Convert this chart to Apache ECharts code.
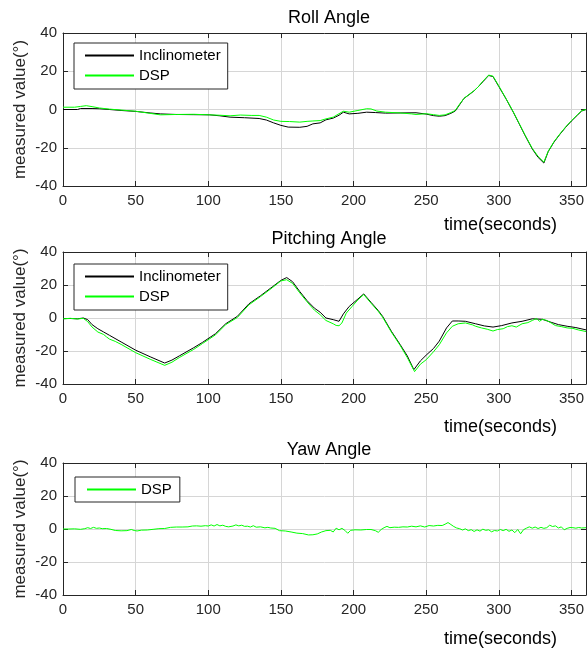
<!DOCTYPE html>
<html>
<head>
<meta charset="utf-8">
<script src="https://cdn.jsdelivr.net/npm/echarts@6/dist/echarts.min.js"></script>
<style>
  html, body { margin: 0; padding: 0; background: #fff; }
  #app { width: 587px; height: 648px; }
</style>
</head>
<body>
<div id="app"></div>
<script>
// roll angle
var rollInclT = [0, 10, 12, 20, 25, 32, 40, 50, 60, 67, 78, 90, 101, 108, 115, 125, 135, 140, 145, 150, 155, 163, 168, 172, 177, 181, 186, 190, 193, 197, 203, 209, 215, 222, 232, 243, 250, 255, 259, 263, 267, 270, 273, 276, 280, 283, 286, 289, 293, 296, 300, 305, 310, 314, 318, 323, 327, 331, 334, 338, 342, 346, 350, 354, 357, 360];
var rollIncl = [0, 0, 0.5, 0.5, 0.4, 0, -0.5, -1, -1.8, -2.3, -2.6, -2.7, -2.8, -3.3, -4, -4.3, -4.7, -5.5, -7, -8.3, -9.2, -9.3, -8.8, -7.5, -7, -5.4, -4.5, -3, -1.4, -2.3, -2, -1.4, -1.6, -1.9, -1.8, -1.7, -2.4, -3.2, -3.5, -3.2, -2, -0.8, 2.5, 5.8, 8, 9.8, 12, 14.5, 17.8, 17.2, 12, 5.5, -1.5, -7.5, -13.5, -20.6, -25, -28, -22, -17, -13, -9.3, -6, -3, -0.8, 0];
var rollDspT = [0, 8, 12, 16, 20, 25, 32, 40, 50, 58, 67, 78, 90, 101, 108, 115, 122, 130, 135, 140, 145, 150, 156, 163, 168, 172, 177, 181, 186, 190, 193, 197, 203, 209, 212, 216, 222, 232, 240, 243, 250, 255, 259, 263, 267, 270, 273, 276, 280, 283, 286, 289, 293, 296, 300, 305, 310, 314, 318, 323, 327, 331, 334, 338, 342, 346, 350, 354, 357, 360];
var rollDsp = [1.2, 1.2, 1.6, 2, 1.5, 0.8, 0.2, -0.3, -0.9, -1.8, -2.8, -2.6, -2.5, -2.8, -3, -3.3, -2.9, -3.1, -3.1, -4, -5.5, -6.2, -6.3, -6.6, -6.2, -6, -5.8, -4.9, -4, -2.2, -0.9, -1.4, -0.5, 0.4, 0.3, -0.8, -1.4, -1.8, -2.3, -2.6, -2.2, -2.7, -3.1, -2.8, -1.6, -0.5, 2.8, 5.8, 8.2, 9.8, 12, 14.8, 18, 17.4, 12.3, 5.6, -1.3, -7.3, -13.3, -20.3, -24.5, -27.5, -21.8, -16.8, -12.8, -9.1, -5.8, -2.8, -0.6, 0];

// pitching angle
var pitchInclT = [0, 5, 10, 14, 15, 17, 20, 24, 28, 32, 40, 50, 60, 70, 75, 80, 90, 96, 105, 112, 120, 128, 136, 144, 150, 154, 158, 163, 168, 173, 177, 181, 186, 190, 193, 197, 203, 207, 212, 217, 220, 226, 232, 237, 241.5, 246, 250, 255, 259, 264, 268, 272, 277, 284, 290, 296, 302, 309, 316, 323, 330, 336, 341, 347, 353, 360];
var pitchIncl = [-0.4, -0.3, -0.5, 0, 0.8, -1, -4, -6.5, -8.5, -10.5, -14.5, -19.5, -23.5, -27.3, -25.5, -23, -18, -14.8, -9.5, -3.5, 1, 8.6, 13.5, 18.8, 22.8, 24.5, 22, 16, 10.5, 6, 3.5, 0, -1, -2, 2.5, 7, 11.5, 14.6, 9.5, 4.5, 1, -8, -16, -23, -31.3, -26, -22.5, -18.5, -14, -6, -1.8, -1.8, -2, -3.5, -4.8, -5.5, -4.6, -3, -2, -0.5, -0.8, -2.6, -4, -5, -5.8, -7.2];
var pitchDspT = [0, 5, 10, 14, 15, 17, 20, 24, 28, 30, 32, 36, 40, 50, 60, 70, 75, 80, 90, 96, 105, 112, 120, 128, 136, 144, 150, 154, 158, 163, 168, 173, 177, 181, 186, 188, 190, 192, 195, 199, 203, 207, 212, 217, 220, 226, 232, 237, 242, 246, 250, 255, 259, 264, 268, 272, 277, 282, 284, 288, 292, 296, 299, 303, 306, 309, 312, 316, 320, 323, 326, 328, 330, 333, 336, 339, 343, 347, 351, 355, 360];
var pitchDsp = [-0.5, -0.2, -0.6, -0.2, 0.4, -2.2, -5.5, -8.5, -10, -11.5, -12.8, -14.2, -16, -21, -25, -28.7, -26.8, -24, -19, -15.5, -10.2, -4, 0.3, 8, 13, 18.3, 22.5, 23.2, 21, 15.2, 9.8, 4.8, 2, -1.5, -3.5, -4.5, -4.7, -3, 3, 7, 11, 14.2, 9, 4, 0.5, -8.5, -16.5, -24, -32.5, -28, -25.3, -20.5, -16.2, -9, -5, -3.5, -3, -4.2, -5, -6, -6.8, -7.9, -7, -6.5, -5.2, -4.7, -5.5, -3.5, -2.8, -1.5, -0.3, -2, -0.8, -1.5, -3, -4.6, -5.2, -6, -6.3, -7.3, -8.2];

// yaw angle
var yawDspT = [0, 4, 8, 12, 13, 15, 17, 19, 21, 23, 25, 27, 30, 33, 36, 40, 44, 47, 49, 51, 54, 58, 62, 66, 70, 74, 78, 82, 86, 89, 92, 95, 98, 100, 102, 104, 106, 108, 110, 112, 114, 117, 119, 121, 123, 125, 127, 129, 131, 133, 136, 139, 141, 143, 146, 149, 153, 157, 161, 165, 169, 172, 175, 178, 181, 184, 186, 188, 190, 192, 194, 196, 198, 201, 205, 209, 212, 215, 217, 219, 221, 223, 225, 228, 231, 234, 237, 240, 243, 246, 249, 252, 255, 258, 261, 263, 265, 267, 269, 271, 273, 275, 277, 279, 281, 283, 285, 287, 289, 291, 293, 295, 297, 299, 301, 303, 305, 307, 309, 311, 313, 315, 317, 319, 321, 323, 325, 327, 329, 331, 333, 335, 337, 339, 341, 343, 345, 347, 349, 351, 353, 355, 357, 360];
var yawDsp = [0, 0, 0.1, -0.2, 0.5, 0.2, 0.8, 0.3, 1, 0.4, 0.6, 0.2, 0.3, -0.2, -0.9, -1.1, -1, -0.3, -0.9, -1.2, -0.7, -0.6, -0.2, 0.2, 0.3, 1, 1.2, 1.2, 1.3, 1.8, 1.9, 1.7, 2, 1.8, 2.5, 1.8, 2.7, 1.9, 2.3, 1.6, 1.3, 1.8, 2.5, 1.9, 2.3, 1.6, 1.7, 1.2, 2, 1.1, 1.3, 0.7, 1, 0.6, 0.4, -1, -1.2, -1.8, -2.5, -2.8, -3.6, -3.5, -3, -1.8, -1, -0.8, -1.8, 0.5, -0.5, 0.4, -0.8, -2.6, -0.8, -0.5, -0.6, -0.3, -0.3, -1, -2, -0.3, 0.8, 1.6, 0.8, 1.1, 1, 1.3, 1.2, 1.7, 1.3, 1.9, 1.2, 2.1, 1.8, 2.2, 2.1, 2.9, 3.9, 2.7, 1.5, 0.6, 0.2, -0.6, 0.1, -1, -0.4, -1.5, -0.5, -1.3, -0.1, -0.8, -0.5, -1.7, -0.9, -1.2, -0.3, -1, -0.2, -1.4, -0.6, -2.2, -0.3, -2.9, -0.4, 0.5, 1.3, 0.5, 1.2, 0.3, 1, 0.4, 0.8, 2.3, 1.5, 1.9, 0.6, 1.3, -0.5, 0.4, 0.9, 0.8, 0.5, 0.9, 0.6, 0.8];

var plotTitles = ["Roll Angle", "Pitching Angle", "Yaw Angle"];
var yTickMin = -40, yTickMax = 40, yTickStep = 20;
var xTickMax = 360, xTickStep = 50;

var font = "'Liberation Sans', Arial, Helvetica, sans-serif";
var ink = "#262626";
var gridColor = "#d6d6d6";
var gridTops = [33, 252, 463];
var gridHeights = [153, 132, 132];
var titleTops = [4, 225, 436];
var nameTops = [211, 413, 625];

function pairs(ts, vs) {
  return ts.map(function (t, i) { return [t, vs[i]]; });
}

var chart = echarts.init(document.getElementById("app"));

var grids = [], xAxes = [], yAxes = [], titles = [], legends = [];
gridTops.forEach(function (top, i) {
  grids.push({ left: 63, right: 1, top: top, height: gridHeights[i] });
  var tick = { show: true, inside: true, length: 5, lineStyle: { color: ink } };
  xAxes.push({
    type: "value", gridIndex: i, min: 0, max: xTickMax, interval: xTickStep,
    axisLine: { onZero: false, lineStyle: { color: ink } }, axisTick: tick,
    axisLabel: { color: ink, fontSize: 15, fontFamily: font, margin: 7, showMaxLabel: false },
    splitLine: { show: true, lineStyle: { color: gridColor, width: 1 } }
  });
  xAxes.push({
    type: "value", gridIndex: i, position: "top", min: 0, max: xTickMax, interval: xTickStep,
    axisLine: { show: true, onZero: false, lineStyle: { color: ink } }, axisTick: tick,
    axisLabel: { show: false }, splitLine: { show: false }
  });
  yAxes.push({
    type: "value", gridIndex: i, min: yTickMin, max: yTickMax, interval: yTickStep,
    name: "measured value(°)", nameLocation: "middle", nameGap: 34, nameMoveOverlap: false,
    nameTextStyle: { color: ink, fontSize: 17, fontFamily: font },
    axisLine: { show: true, onZero: false, lineStyle: { color: ink } }, axisTick: tick,
    axisLabel: { color: ink, fontSize: 15, fontFamily: font, margin: 6 },
    splitLine: { show: true, lineStyle: { color: gridColor, width: 1 } }
  });
  yAxes.push({
    type: "value", gridIndex: i, position: "right", min: yTickMin, max: yTickMax, interval: yTickStep,
    axisLine: { show: true, onZero: false, lineStyle: { color: ink } }, axisTick: tick,
    axisLabel: { show: false }, splitLine: { show: false }
  });
  titles.push({
    text: plotTitles[i], left: 324, top: titleTops[i], textAlign: "center",
    textStyle: { color: "#000", fontSize: 18, fontWeight: "normal", fontFamily: font }
  });
  titles.push({
    text: "time(seconds)", right: 25, top: nameTops[i],
    textStyle: { color: "#000", fontSize: 18, fontWeight: "normal", fontFamily: font }
  });
});

var legendBase = {
  orient: "vertical", itemWidth: 49, itemHeight: 14, itemGap: 5,
  padding: [5, 7, 6, 10], borderColor: ink, borderWidth: 1, borderRadius: 0,
  backgroundColor: "#fff", selectedMode: false,
  itemStyle: { opacity: 0 },
  textStyle: { color: "#000", fontSize: 15, fontFamily: font }
};
legends.push(Object.assign({ left: 74, top: 43, data: ["Inclinometer", "DSP"] }, legendBase));
legends.push(Object.assign({ left: 74, top: 264, data: ["Inclinometer", "DSP"] }, legendBase));
legends.push(Object.assign({ left: 75, top: 477, data: ["DSP"] }, legendBase, { padding: [5, 8, 5, 11] }));

function line(name, color, data, g) {
  return {
    type: "line", name: name, xAxisIndex: g * 2, yAxisIndex: g * 2,
    data: data, symbol: "none", animation: false,
    lineStyle: { color: color, width: 1 }, itemStyle: { color: color }
  };
}

chart.setOption({
  animation: false,
  title: titles,
  legend: legends,
  grid: grids,
  xAxis: xAxes,
  yAxis: yAxes,
  series: [
    line("Inclinometer", "#000000", pairs(rollInclT, rollIncl), 0),
    line("DSP", "#00ff00", pairs(rollDspT, rollDsp), 0),
    line("Inclinometer", "#000000", pairs(pitchInclT, pitchIncl), 1),
    line("DSP", "#00ff00", pairs(pitchDspT, pitchDsp), 1),
    line("DSP", "#00ff00", pairs(yawDspT, yawDsp), 2)
  ]
});
</script>
</body>
</html>
